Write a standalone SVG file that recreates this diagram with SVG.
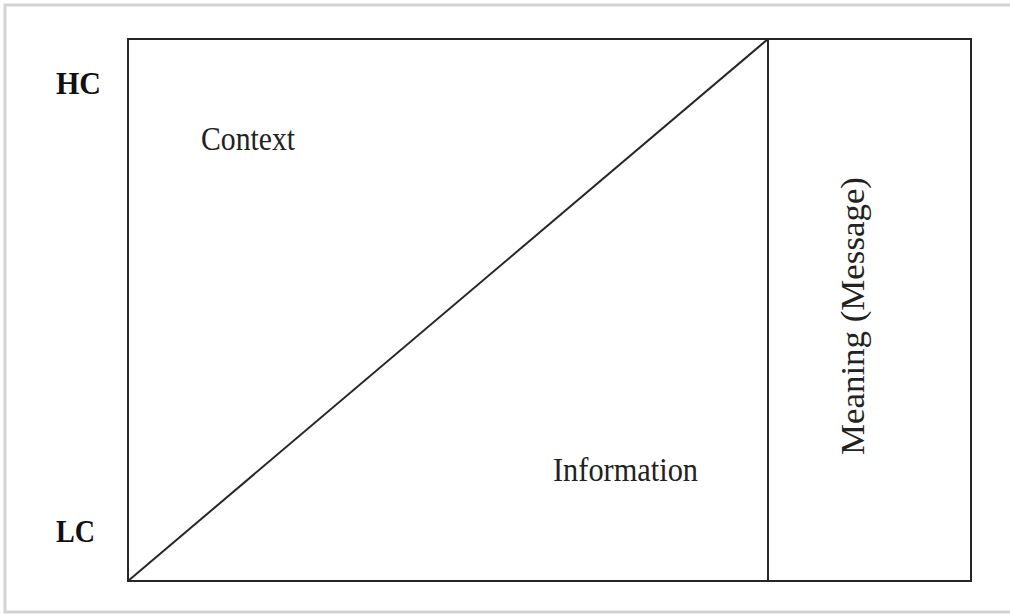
<svg xmlns="http://www.w3.org/2000/svg" width="1010" height="615" viewBox="0 0 1010 615">
  <style>
    .frame { fill: none; stroke: #d2d2d2; stroke-width: 3; }
    .edge { fill: none; stroke: #262626; stroke-width: 2; }
    .axis { font-family: "Liberation Serif", "Times New Roman", serif; font-weight: bold; font-size: 32px; fill: #111; }
    .label { font-family: "Liberation Serif", "Times New Roman", serif; font-size: 34px; fill: #222; }
  </style>
  <rect width="1010" height="615" fill="#ffffff"/>
  <!-- outer panel border -->
  <rect class="frame" x="5" y="5" width="1010" height="607"/>

  <g id="connectors">
    <!-- main box -->
    <rect class="edge" x="128" y="39" width="843" height="542"/>
    <!-- divider between information area and meaning column -->
    <line class="edge" x1="768" y1="39" x2="768" y2="581"/>
    <!-- context / information boundary -->
    <line class="edge" x1="128" y1="581" x2="768" y2="39"/>
  </g>

  <g id="hc">
    <text class="axis" x="56" y="94" textLength="45" lengthAdjust="spacingAndGlyphs">HC</text>
  </g>
  <g id="lc">
    <text class="axis" x="56" y="542" textLength="39" lengthAdjust="spacingAndGlyphs">LC</text>
  </g>
  <g id="context">
    <text class="label" x="201" y="150" textLength="94" lengthAdjust="spacingAndGlyphs">Context</text>
  </g>
  <g id="information">
    <text class="label" x="553" y="481" textLength="145" lengthAdjust="spacingAndGlyphs">Information</text>
  </g>
  <g id="meaning">
    <text class="label" transform="translate(864,455) rotate(-90)" x="0" y="0" textLength="278" lengthAdjust="spacingAndGlyphs">Meaning (Message)</text>
  </g>
</svg>
